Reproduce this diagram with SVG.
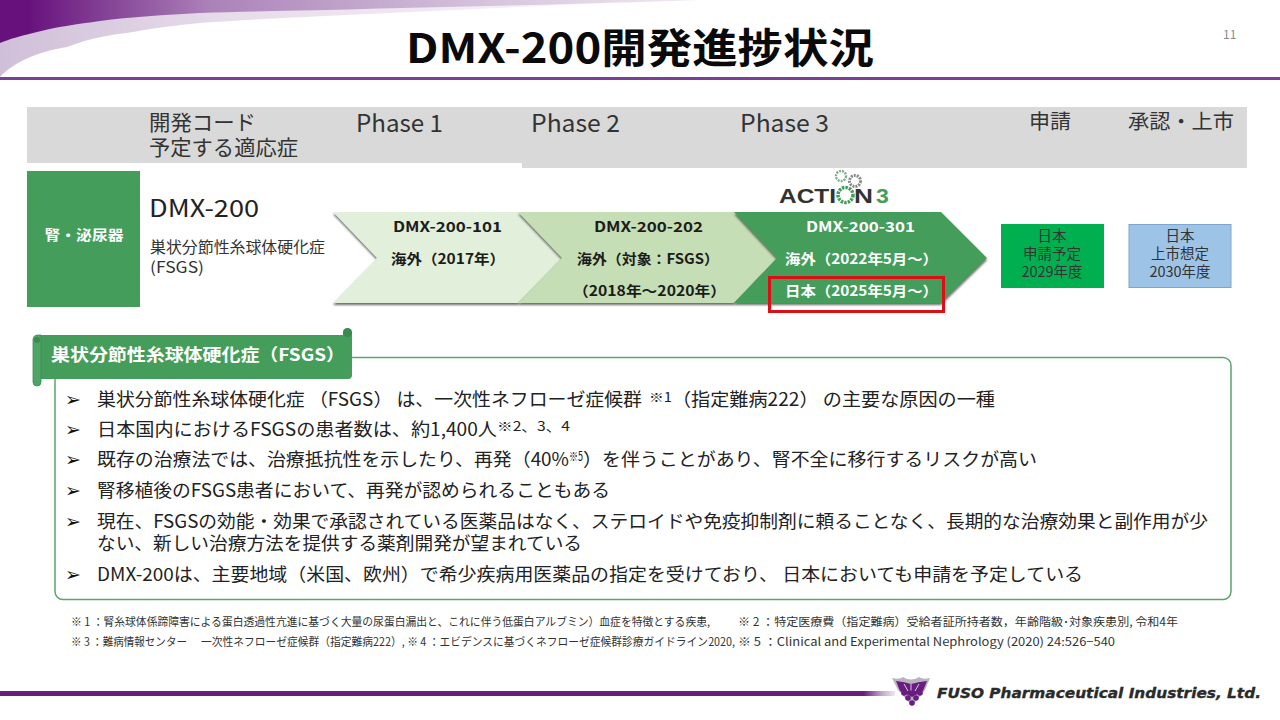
<svg xmlns="http://www.w3.org/2000/svg" width="1280" height="720" viewBox="0 0 1280 720">
<style>
text{font-family:"Meiryo UI","Noto Sans CJK JP","Noto Sans",sans-serif;fill:#222}
.b{font-size:18px}
.s{font-size:13px}
.f{font-size:11.5px;fill:#333}
.h{font-size:22px;fill:#333}
.c{font-size:14px;font-weight:700;fill:#1c1c1c}
.w{font-size:14px;font-weight:700;fill:#fff}
.bx{font-size:14.5px;text-anchor:middle;fill:#333}
.ar{font-size:19px;fill:#111;font-family:"DejaVu Sans",sans-serif}
.lg{font-family:"Liberation Sans",sans-serif;font-size:21px;font-weight:700}
</style>
<defs>
<linearGradient id="g1" gradientUnits="userSpaceOnUse" x1="0" x2="700" y1="0" y2="0"><stop offset="0" stop-color="#67127c"/><stop offset=".04" stop-color="#67127c"/><stop offset=".3" stop-color="#ab82b8"/><stop offset=".7" stop-color="#d6c5dd"/><stop offset="1" stop-color="#f0eaf3"/></linearGradient>
<linearGradient id="g2" gradientUnits="userSpaceOnUse" x1="0" x2="660" y1="60" y2="0"><stop offset="0" stop-color="#d0bfd8"/><stop offset=".35" stop-color="#e6dcea"/><stop offset="1" stop-color="#fbf9fc"/></linearGradient>
<linearGradient id="g3" x1="0" x2="1" y1="0" y2="0"><stop offset="0" stop-color="#6a1d80"/><stop offset=".965" stop-color="#6a1d80"/><stop offset=".985" stop-color="#c0a6cb"/><stop offset="1" stop-color="#efe9f2"/></linearGradient>
<filter id="sh" x="-5%" y="-5%" width="110%" height="115%"><feDropShadow dx="0" dy="2" stdDeviation="1.2" flood-color="#444" flood-opacity=".8"/></filter>
</defs>

<g id="header-decoration">
<path d="M0 77C12 64 35 52 67 47C90 38 110 35 133 32C160 27 180 25 200 23C330 14 520 8 660 0L0 0Z" fill="url(#g2)"/>
<path d="M0 43C10 39 20 36 33 33C55 27 78 24 100 21C130 17 165 15 200 13C350 9 560 5 700 0L0 0Z" fill="url(#g1)"/>
<rect x="0" y="77" width="1280" height="3" fill="#7a3f97"/>
</g>
<text id="title" x="406" y="63" font-size="41" font-weight="700" textLength="468" lengthAdjust="spacingAndGlyphs" style="fill:#0a0a0a">DMX-200開発進捗状況</text>
<text id="page" x="1223" y="39" font-size="12" style="fill:#8a8a8a">11</text>

<g id="table-header">
<path d="M27 107H1247V168H522V163H27Z" fill="#d9d9d9"/>
<text class="h" x="149" y="130" textLength="107" lengthAdjust="spacingAndGlyphs" style="font-size:21px">開発コード</text>
<text class="h" x="149" y="155" textLength="149" lengthAdjust="spacingAndGlyphs" style="font-size:21px">予定する適応症</text>
<text class="h" x="356" y="132" textLength="87" lengthAdjust="spacingAndGlyphs" style="font-size:24px">Phase 1</text>
<text class="h" x="531" y="132" textLength="89" lengthAdjust="spacingAndGlyphs" style="font-size:24px">Phase 2</text>
<text class="h" x="740" y="132" textLength="89" lengthAdjust="spacingAndGlyphs" style="font-size:24px">Phase 3</text>
<text class="h" x="1029" y="129" textLength="42" lengthAdjust="spacingAndGlyphs" style="font-size:20px">申請</text>
<text class="h" x="1128" y="129" textLength="106" lengthAdjust="spacingAndGlyphs" style="font-size:20px">承認・上市</text>
</g>

<g id="category">
<rect x="27" y="171" width="113" height="136" fill="#459d5b"/>
<text x="84" y="240" text-anchor="middle" font-size="14" font-weight="700" textLength="79" lengthAdjust="spacingAndGlyphs" style="fill:#fff">腎・泌尿器</text>
</g>
<g id="drug">
<text x="149" y="217" font-size="24" textLength="110" lengthAdjust="spacingAndGlyphs" style="fill:#222">DMX-200</text>
<text x="150" y="253" font-size="15.5" textLength="175" lengthAdjust="spacingAndGlyphs" style="fill:#333">巣状分節性糸球体硬化症</text>
<text x="150" y="273" font-size="15.5" textLength="54" lengthAdjust="spacingAndGlyphs" style="fill:#333">(FSGS)</text>
</g>

<g id="phase1">
<polygon points="333,212 518,212 562,258 518,303 333,303 377,258" fill="#e2efda" filter="url(#sh)"/>
<text class="c" x="393" y="232" textLength="109" lengthAdjust="spacingAndGlyphs">DMX-200-101</text>
<text class="c" x="391" y="264" textLength="114" lengthAdjust="spacingAndGlyphs">海外（2017年）</text>
</g>
<g id="phase2">
<polygon points="518,212 734,212 777,258 734,303 518,303 562,258" fill="#c5deb5" filter="url(#sh)"/>
<text class="c" x="594" y="232" textLength="109" lengthAdjust="spacingAndGlyphs">DMX-200-202</text>
<text class="c" x="577" y="264" textLength="142" lengthAdjust="spacingAndGlyphs">海外（対象：FSGS）</text>
<text class="c" x="573" y="296" textLength="153" lengthAdjust="spacingAndGlyphs">（2018年～2020年）</text>
</g>
<g id="phase3">
<polygon points="734,212 941,212 987,258 941,303 734,303 777,258" fill="#459d5b" filter="url(#sh)"/>
<text class="w" x="806" y="232" textLength="109" lengthAdjust="spacingAndGlyphs">DMX-200-301</text>
<text class="w" x="785" y="264" textLength="153" lengthAdjust="spacingAndGlyphs">海外（2022年5月～）</text>
<text class="w" x="785" y="296" textLength="153" lengthAdjust="spacingAndGlyphs">日本（2025年5月～）</text>
</g>
<rect id="highlight" x="769.500" y="277.500" width="174" height="34" fill="none" stroke="#dd0f14" stroke-width="3"/>

<g id="action3-logo">
<circle cx="841" cy="176" r="5" fill="none" stroke="#7fb18b" stroke-width="2.500" stroke-dasharray="2 1"/>
<circle cx="855" cy="181" r="5.500" fill="none" stroke="#8a8a8a" stroke-width="3" stroke-dasharray="2 1"/>
<text class="lg" x="779" y="203" textLength="57" lengthAdjust="spacingAndGlyphs" style="fill:#333">ACTI</text>
<circle cx="845.500" cy="195" r="7.500" fill="#fff" stroke="#459d5b" stroke-width="3.500" stroke-dasharray="2.500 1"/>
<text class="lg" transform="translate(854 203) scale(1.25 1)" style="fill:#333">N</text>
<text class="lg" transform="translate(876 203) scale(1.1 1)" style="fill:#459d5b">3</text>
</g>

<g id="filing">
<rect x="1001" y="224" width="103" height="64" fill="#00b050"/>
<text class="bx" x="1052" y="241">日本</text>
<text class="bx" x="1052" y="259">申請予定</text>
<text class="bx" x="1052" y="277">2029年度</text>
</g>
<g id="approval">
<rect x="1129" y="224.500" width="102" height="63" fill="#9dc3e6" stroke="#7ea6cf"/>
<text class="bx" x="1180" y="241">日本</text>
<text class="bx" x="1180" y="259">上市想定</text>
<text class="bx" x="1180" y="277">2030年度</text>
</g>

<g id="panel">
<rect x="55" y="357.500" width="1176" height="242" rx="8" fill="#fff" stroke="#5ba56d" stroke-width="1.500"/>
<path d="M41 335H343V333a4.500 4.500 0 0 1 9 0V375q0 4-4 4H41Z" fill="#459d5b"/>
<circle cx="347.500" cy="332.500" r="4.500" fill="#3a8a4e"/>
<path d="M41 335H38q-5 0-5 5V382a4 4 0 0 0 8 0Z" fill="#4fa565" stroke="#3a8a4e" stroke-width=".8"/>
<circle cx="37" cy="340" r="3" fill="#3a8a4e"/>
<text x="51" y="361" font-size="17" font-weight="700" textLength="294" lengthAdjust="spacingAndGlyphs" style="fill:#fff">巣状分節性糸球体硬化症（FSGS）</text>
</g>

<g id="bullets">
<text class="ar" x="65" y="406">➢</text>
<text class="ar" x="65" y="436">➢</text>
<text class="ar" x="65" y="466">➢</text>
<text class="ar" x="65" y="497">➢</text>
<text class="ar" x="65" y="528">➢</text>
<text class="ar" x="65" y="581">➢</text>
<text class="b" x="97" y="406" textLength="545" lengthAdjust="spacingAndGlyphs">巣状分節性糸球体硬化症 （FSGS） は、一次性ネフローゼ症候群</text>
<text class="s" x="649" y="402" textLength="23" lengthAdjust="spacingAndGlyphs">※1</text>
<text class="b" x="672" y="406" textLength="323" lengthAdjust="spacingAndGlyphs">（指定難病222） の主要な原因の一種</text>
<text class="b" x="97" y="436" textLength="400" lengthAdjust="spacingAndGlyphs">日本国内におけるFSGSの患者数は、約1,400人</text>
<text class="s" x="497" y="431" textLength="73" lengthAdjust="spacingAndGlyphs">※2、3、4</text>
<text class="b" x="97" y="466" textLength="472" lengthAdjust="spacingAndGlyphs">既存の治療法では、治療抵抗性を示したり、再発（40%</text>
<text class="s" x="569" y="461" textLength="14" lengthAdjust="spacingAndGlyphs">※5</text>
<text class="b" x="583" y="466" textLength="454" lengthAdjust="spacingAndGlyphs">）を伴うことがあり、腎不全に移行するリスクが高い</text>
<text class="b" x="97" y="497" textLength="513" lengthAdjust="spacingAndGlyphs">腎移植後のFSGS患者において、再発が認められることもある</text>
<text class="b" x="97" y="528" textLength="1111" lengthAdjust="spacingAndGlyphs">現在、FSGSの効能・効果で承認されている医薬品はなく、ステロイドや免疫抑制剤に頼ることなく、長期的な治療効果と副作用が少</text>
<text class="b" x="97" y="550" textLength="485" lengthAdjust="spacingAndGlyphs">ない、新しい治療方法を提供する薬剤開発が望まれている</text>
<text class="b" x="97" y="581" textLength="986" lengthAdjust="spacingAndGlyphs">DMX-200は、主要地域（米国、欧州）で希少疾病用医薬品の指定を受けており、 日本においても申請を予定している</text>
</g>

<g id="footnotes">
<text class="f" x="71" y="626" textLength="639" lengthAdjust="spacingAndGlyphs">※ 1 ：腎糸球体係蹄障害による蛋白透過性亢進に基づく大量の尿蛋白漏出と、これに伴う低蛋白アルブミン）血症を特徴とする疾患,</text>
<text class="f" x="738" y="626" textLength="440" lengthAdjust="spacingAndGlyphs">※ 2 ：特定医療費（指定難病）受給者証所持者数，年齢階級･対象疾患別, 令和4年</text>
<text class="f" x="71" y="646" textLength="116" lengthAdjust="spacingAndGlyphs">※ 3 ：難病情報センター</text>
<text class="f" x="201" y="646" textLength="534" lengthAdjust="spacingAndGlyphs">一次性ネフローゼ症候群（指定難病222）, ※ 4 ：エビデンスに基づくネフローゼ症候群診療ガイドライン2020,</text>
<text class="f" x="738" y="646" textLength="377" lengthAdjust="spacingAndGlyphs">※ 5 ：Clinical and Experimental Nephrology (2020) 24:526−540</text>
</g>

<g id="footer">
<rect x="0" y="691" width="895" height="5" fill="url(#g3)"/>
<g id="fuso-emblem">
<path d="M892 678Q900 680 903 677Q911 682 919 677Q923 680 930 678L925 690L912 706L898 690Z" fill="#b9b3bf"/>
<path d="M896 681Q905 682 911 684Q918 682 927 681L923 691L912 697L900 691Z" fill="#6a1d80"/>
<path d="M911 684V692M904 684L908 691M919 684L915 691" stroke="#d8c9de" stroke-width="1" fill="none"/>
<g fill="#6a1d80"><circle cx="904" cy="693" r="2.800"/><circle cx="912" cy="693" r="2.800"/><circle cx="920" cy="693" r="2.800"/><circle cx="908" cy="698" r="2.800"/><circle cx="916" cy="698" r="2.800"/><circle cx="912" cy="703" r="2.800"/></g>
</g>
<text x="937" y="698" font-size="14.500" font-weight="700" font-style="italic" textLength="324" lengthAdjust="spacingAndGlyphs" stroke="#2a2a2a" stroke-width=".35" style="font-family:'DejaVu Sans',sans-serif;fill:#2a2a2a">FUSO Pharmaceutical Industries, Ltd.</text>
</g>
</svg>
